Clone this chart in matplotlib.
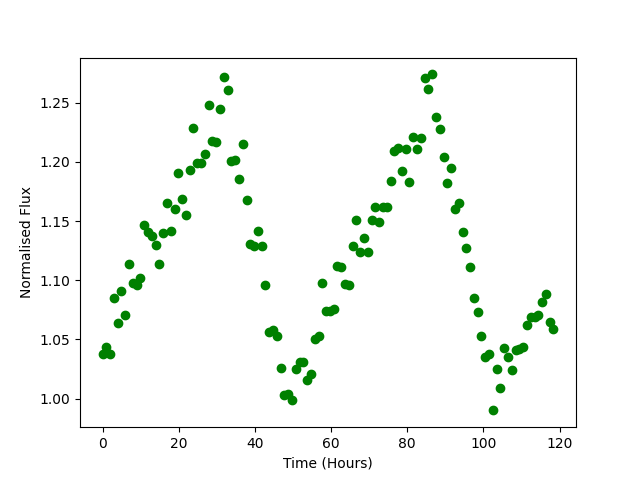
import matplotlib
matplotlib.use('Agg')
import matplotlib.pyplot as plt
import numpy as np

# sampling roughly once an hour
n_samples = 120
time_step = 0.995

flux = [
    1.038, 1.044, 1.038, 1.085, 1.064, 1.091, 1.071, 1.114, 1.098, 1.096,
    1.102, 1.147, 1.141, 1.137, 1.130, 1.114, 1.140, 1.165, 1.142, 1.160,
    1.191, 1.169, 1.155, 1.193, 1.229, 1.199, 1.199, 1.207, 1.248, 1.218,
    1.217, 1.245, 1.272, 1.261, 1.201, 1.202, 1.186, 1.215, 1.168, 1.131,
    1.129, 1.142, 1.129, 1.096, 1.056, 1.058, 1.053, 1.026, 1.003, 1.004,
    0.999, 1.025, 1.031, 1.031, 1.016, 1.021, 1.050, 1.053, 1.098, 1.074,
    1.074, 1.076, 1.112, 1.111, 1.097, 1.096, 1.129, 1.151, 1.124, 1.136,
    1.124, 1.151, 1.162, 1.149, 1.162, 1.162, 1.184, 1.209, 1.212, 1.192,
    1.211, 1.183, 1.221, 1.211, 1.220, 1.271, 1.262, 1.274, 1.238, 1.228,
    1.204, 1.182, 1.195, 1.160, 1.165, 1.141, 1.127, 1.111, 1.085, 1.073,
    1.053, 1.035, 1.038, 0.990, 1.025, 1.009, 1.043, 1.035, 1.024, 1.041,
    1.042, 1.044, 1.062, 1.069, 1.069, 1.071, 1.082, 1.088, 1.065, 1.059,
]

time = np.arange(n_samples) * time_step

fig = plt.figure(figsize=(6.4, 4.8), dpi=100)
ax = plt.subplot(1, 1, 1)
ax.plot(time, flux, 'o', color='g')
ax.set_xlabel('Time (Hours)')
ax.set_ylabel('Normalised Flux')

fig.savefig('out.png', dpi=100)
